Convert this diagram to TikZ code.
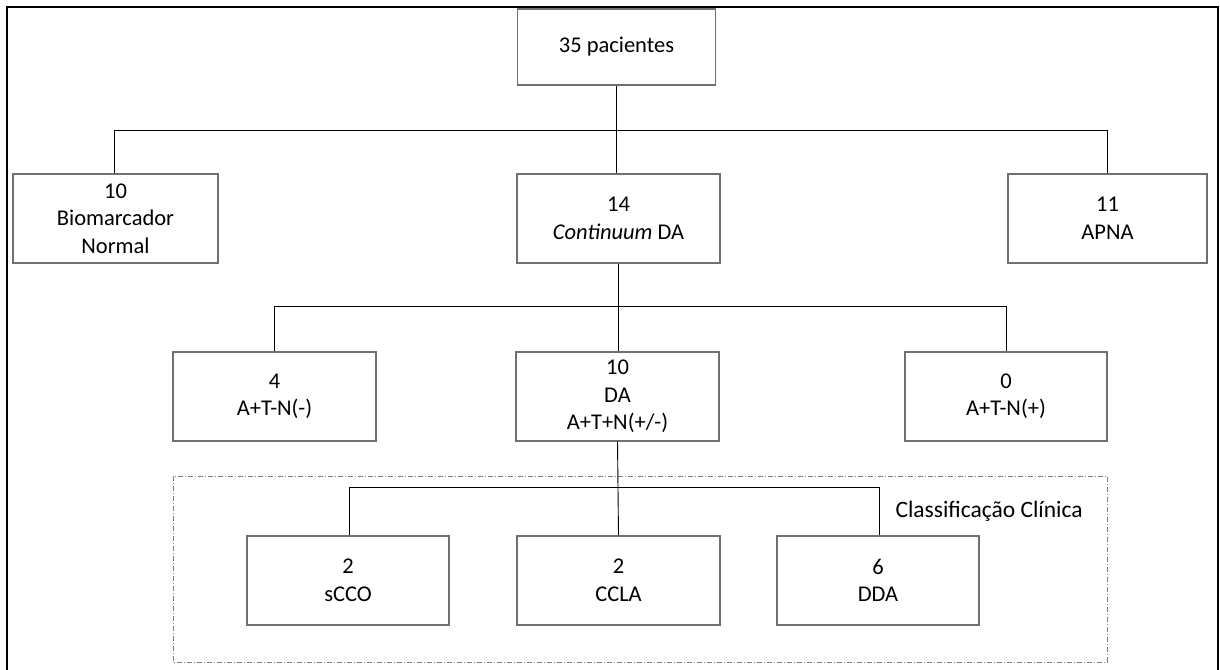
\documentclass[tikz,border=0pt]{standalone}
\usepackage{fontspec}
\setmainfont{Carlito}
\begin{document}
\begin{tikzpicture}[x=1pt,y=-1pt,
  box/.style={draw=boxgray,line width=1.2pt,fill=white,inner sep=0pt,align=center,
    font=\fontsize{22.5}{27.5}\selectfont,text=black},
  conn/.style={draw=black,line width=0.9pt},
  grp/.style={draw=dashgray,line width=0.9pt,dash pattern=on 5pt off 2pt on 1pt off 2pt},
  frame/.style={draw=black,line width=2pt}]
\definecolor{boxgray}{HTML}{707070}
\definecolor{dashgray}{HTML}{808080}
\useasboundingbox (0,0) rectangle (1220,669);
% outer frame
\draw[frame] (7,672) -- (7,7) -- (1218,7) -- (1218,672);
% group frame
\draw[grp] (173,476) rectangle (1107,662);
\node[anchor=base west,font=\fontsize{23.5}{28}\selectfont] (lbl) at (892,517) {Classificação Clínica};
% coordinates for bus lines
\coordinate (h1) at (0,130);
\coordinate (h2) at (0,306);
\coordinate (h3) at (0,487);
% row 1
\node[box,minimum width=198pt,minimum height=76pt] (top) at (616.5,47) {35 pacientes};
% row 2
\node[box,minimum width=205pt,minimum height=89pt] (bio) at (115.5,218.5) {10\\Biomarcador\\Normal};
\node[box,minimum width=203pt,minimum height=89pt] (cont) at (618.5,218.5) {14\\\textit{Continuum} DA};
\node[box,minimum width=199pt,minimum height=89pt] (apna) at (1107.5,218.5) {11\\APNA};
% row 3
\node[box,minimum width=203pt,minimum height=89pt] (neg) at (274.5,396.5) {4\\A+T-N(-)};
\node[box,minimum width=203pt,minimum height=89pt] (da) at (617.5,396.5) {10\\DA\\A+T+N(+/-)};
\node[box,minimum width=202pt,minimum height=89pt] (pos) at (1006,396.5) {0\\A+T-N(+)};
% row 4
\node[box,minimum width=202pt,minimum height=89pt] (scco) at (348,580.5) {2\\sCCO};
\node[box,minimum width=203pt,minimum height=89pt] (ccla) at (618.5,580.5) {2\\CCLA};
\node[box,minimum width=202pt,minimum height=89pt] (dda) at (878,580.5) {6\\DDA};
% connectors
\draw[conn] (top.south) -- (top.south |- cont.north);
\draw[conn] ([xshift=-1.5pt]bio.north) -- ([xshift=-1.5pt]bio.north |- h1) -- ([xshift=-0.5pt]apna.north |- h1) -- ([xshift=-0.5pt]apna.north);
\draw[conn] (cont.south) -- (cont.south |- da.north);
\draw[conn] (neg.north) -- (neg.north |- h2) -- (pos.north |- h2) -- (pos.north);
\draw[conn] (da.south) -- (ccla.north);
\draw[conn] ([xshift=1pt]scco.north) -- ([xshift=1pt]scco.north |- h3) -- ([xshift=1pt]dda.north |- h3) -- ([xshift=1pt]dda.north);
\end{tikzpicture}
\end{document}
